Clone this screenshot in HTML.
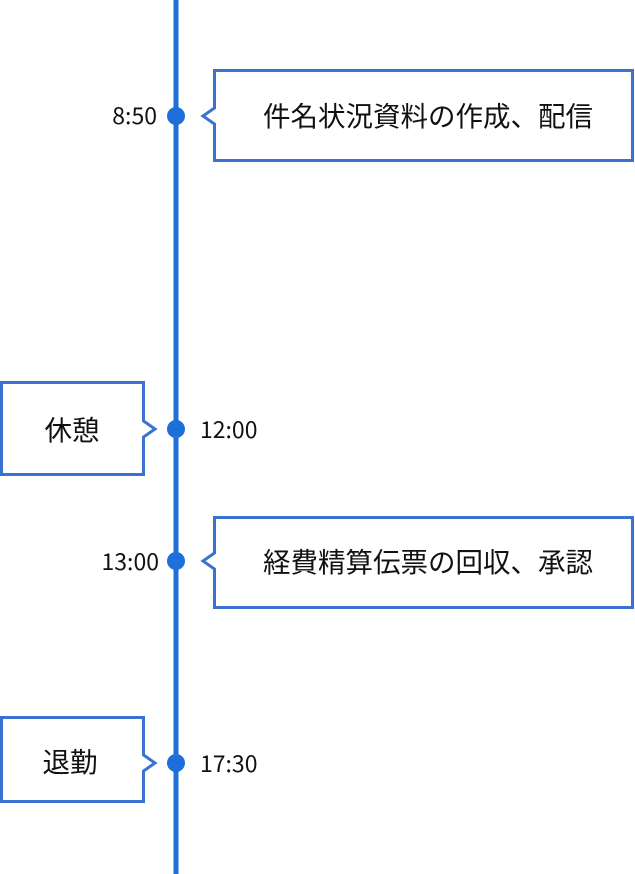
<!DOCTYPE html>
<html><head><meta charset="utf-8"><style>
html,body{margin:0;padding:0;background:#fff;}
svg{display:block;}
text{font-family:"Noto Sans CJK JP","Liberation Sans",sans-serif;fill:#111;}
</style></head><body>
<svg width="635" height="874" viewBox="0 0 635 874" xmlns="http://www.w3.org/2000/svg">
<line x1="176" y1="0" x2="176" y2="874" stroke="#1e6fd9" stroke-width="5"/>
<g fill="#1e6fd9">
<circle cx="176" cy="116" r="9"/>
<circle cx="176" cy="429" r="9"/>
<circle cx="176" cy="561" r="9"/>
<circle cx="176" cy="763" r="9"/>
</g>
<g fill="#fff" stroke="#3a72d3" stroke-width="3">
<path d="M214.5 70.5 H632.5 V160.5 H214.5 V124 L203 116 L214.5 108 Z"/>
<path d="M1.5 382.5 H143.5 V421 L155 429 L143.5 437 V474.5 H1.5 Z"/>
<path d="M214.5 517.5 H632.5 V607.5 H214.5 V569 L203 561 L214.5 553 Z"/>
<path d="M1.5 717.5 H143.5 V755 L155 763 L143.5 771 V801.5 H1.5 Z"/>
</g>
<g font-size="23">
<text x="157" y="124" text-anchor="end">8:50</text>
<text x="200" y="438">12:00</text>
<text x="159" y="570" text-anchor="end">13:00</text>
<text x="200" y="772">17:30</text>
</g>
<g font-size="27.5">
<text x="428" y="126" text-anchor="middle">件名状況資料の作成、配信</text>
<text x="72" y="440" text-anchor="middle">休憩</text>
<text x="428" y="572" text-anchor="middle">経費精算伝票の回収、承認</text>
<text x="70" y="772" text-anchor="middle">退勤</text>
</g>
</svg>
</body></html>
